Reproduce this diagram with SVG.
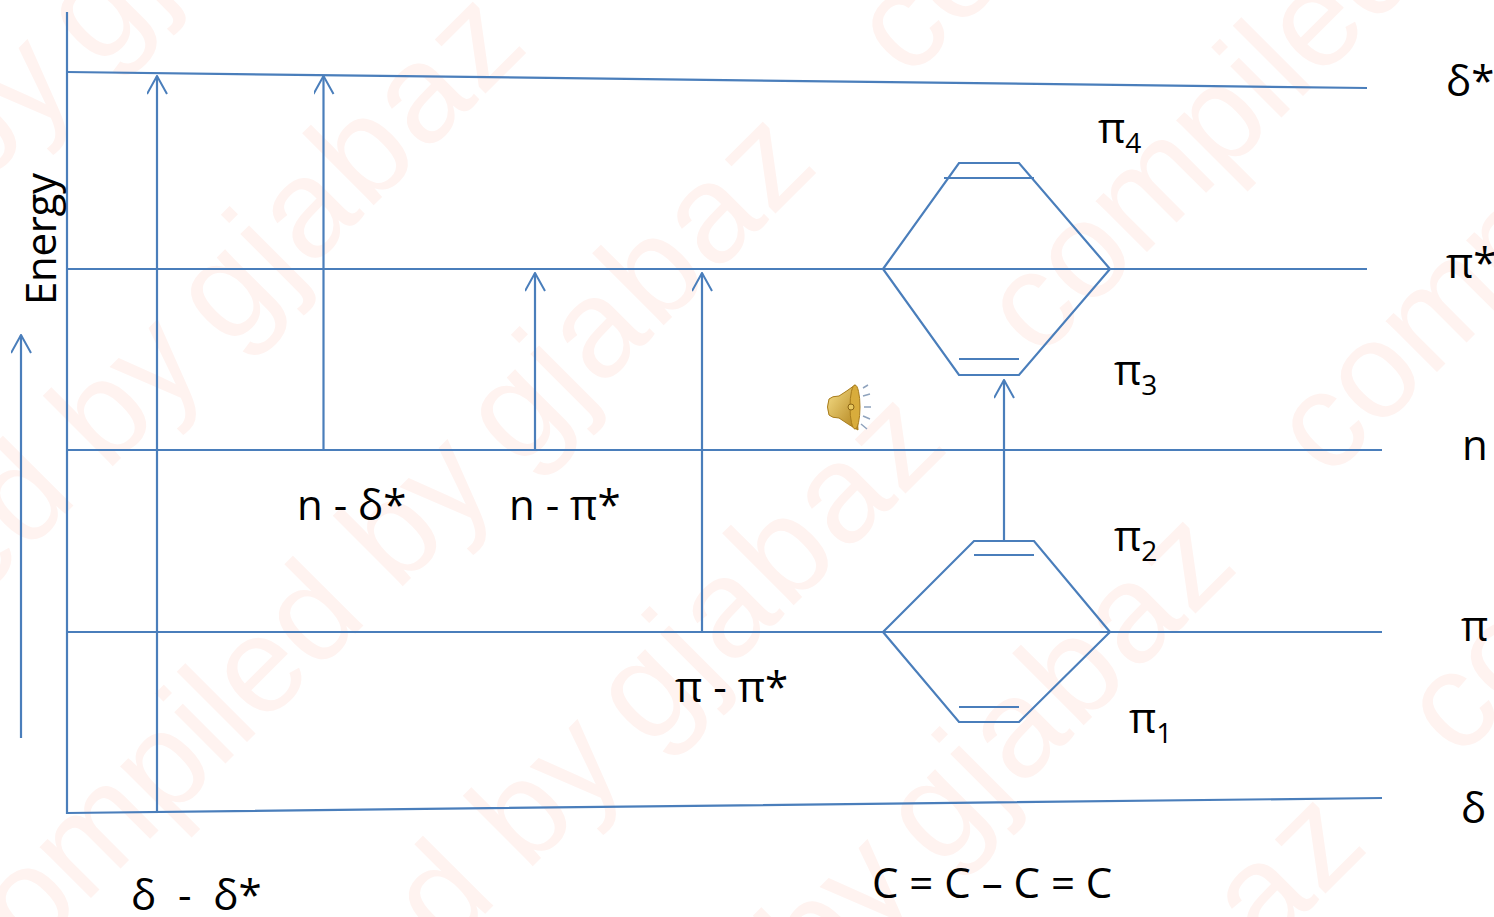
<svg xmlns="http://www.w3.org/2000/svg" width="1494" height="917" viewBox="0 0 1494 917">
<style>
.l{fill:none;stroke:#4a7ebb;stroke-width:2.200}
.t{font-family:"Open Sans","Noto Sans","Liberation Sans",sans-serif;font-size:42px;fill:#000}
.s{font-size:28px}
.w{font-family:"Liberation Sans",Arial,sans-serif;font-size:137px;fill:#fff3f0}
.n{font-size:140px;letter-spacing:3px}
</style>
<defs>
<marker id="a" viewBox="0 0 22 20" refX="10" refY="1" markerWidth="22" markerHeight="20" markerUnits="userSpaceOnUse" orient="0"><path d="M0,19 L10,1 L20,19" fill="none" stroke="#4a7ebb" stroke-width="2"/></marker>
<text id="wm" class="w" transform="rotate(-45)">compiled by <tspan class="n" dx="-10">gjabaz</tspan></text>
<linearGradient id="g" x1="0" y1="0" x2="1" y2="1"><stop offset="0" stop-color="#f7e08a"/><stop offset="1" stop-color="#b08018"/></linearGradient>
</defs>
<rect width="1494" height="917" fill="#fff"/>
<g id="watermark">
<use href="#wm" x="-438" y="607"/>
<use href="#wm" x="-308" y="887"/>
<use href="#wm" x="-18" y="1007"/>
<use href="#wm" x="908" y="81"/>
<use href="#wm" x="112" y="1287"/>
<use href="#wm" x="1038" y="361"/>
<use href="#wm" x="402" y="1407"/>
<use href="#wm" x="1328" y="481"/>
<use href="#wm" x="532" y="1687"/>
<use href="#wm" x="1458" y="761"/>
</g>
<g id="connectors">
<path class="l" d="M67,12V813L1382,798"/>
<path class="l" d="M67,72L1367,88"/>
<path class="l" d="M67,269H1367"/>
<path class="l" d="M67,450H1382"/>
<path class="l" d="M67,632H1382"/>
<path class="l" marker-end="url(#a)" d="M157,813V76"/>
<path class="l" marker-end="url(#a)" d="M323.500,450V76"/>
<path class="l" marker-end="url(#a)" d="M535,450V273"/>
<path class="l" marker-end="url(#a)" d="M702,632V273"/>
<path class="l" marker-end="url(#a)" d="M1004,541V380"/>
<path class="l" marker-end="url(#a)" d="M21,738V335"/>
</g>
<g id="orbitals-upper">
<path class="l" d="M883,269L959,163H1019L1110,269L1019,375H959Z"/>
<path class="l" d="M944,178H1034M959,359H1019"/>
</g>
<g id="orbitals-lower">
<path class="l" d="M883,632L974,541H1034L1110,632L1019,722H959Z"/>
<path class="l" d="M974,555H1034M959,707H1019"/>
</g>
<g id="speaker">
<path d="M829,399q3,-3 10,-3q8,-5 16,-11l3,45q-9,-5 -19,-12q-7,0 -10,-3q-3,-8 0,-16z" fill="url(#g)" stroke="#a87c1c" stroke-width="1"/>
<ellipse cx="855" cy="407" rx="5" ry="22" fill="#d8ac3c" stroke="#a87c1c" stroke-width="1"/>
<circle cx="851" cy="407" r="3" fill="#e8c860" stroke="#8a6414" stroke-width="1"/>
<path d="M863,388l5,-3M863,396l7,-2M864,407h7M863,416l7,3M861,424l6,5" stroke="#8fa3bd" stroke-width="1.500" fill="none"/>
</g>
<g id="labels">
<text class="t" x="1446" y="96">δ*</text>
<text class="t" x="1446" y="278">π*</text>
<text class="t" x="1462" y="460">n</text>
<text class="t" x="1461" y="641">π</text>
<text class="t" x="1461" y="823">δ</text>
<text class="t" x="1098" y="143">π<tspan class="s" dy="10">4</tspan></text>
<text class="t" x="1114" y="385">π<tspan class="s" dy="10">3</tspan></text>
<text class="t" x="1114" y="551">π<tspan class="s" dy="10">2</tspan></text>
<text class="t" x="1129" y="733">π<tspan class="s" dy="10">1</tspan></text>
<text class="t" x="297" y="520">n - δ*</text>
<text class="t" x="509" y="520">n - π*</text>
<text class="t" x="675" y="702">π - π*</text>
<text class="t" x="131" y="910" xml:space="preserve">δ  -  δ*</text>
<text class="t" x="872" y="898">C = C – C = C</text>
<text class="t" transform="translate(56,305) rotate(-90)" textLength="132">Energy</text>
</g>
</svg>
